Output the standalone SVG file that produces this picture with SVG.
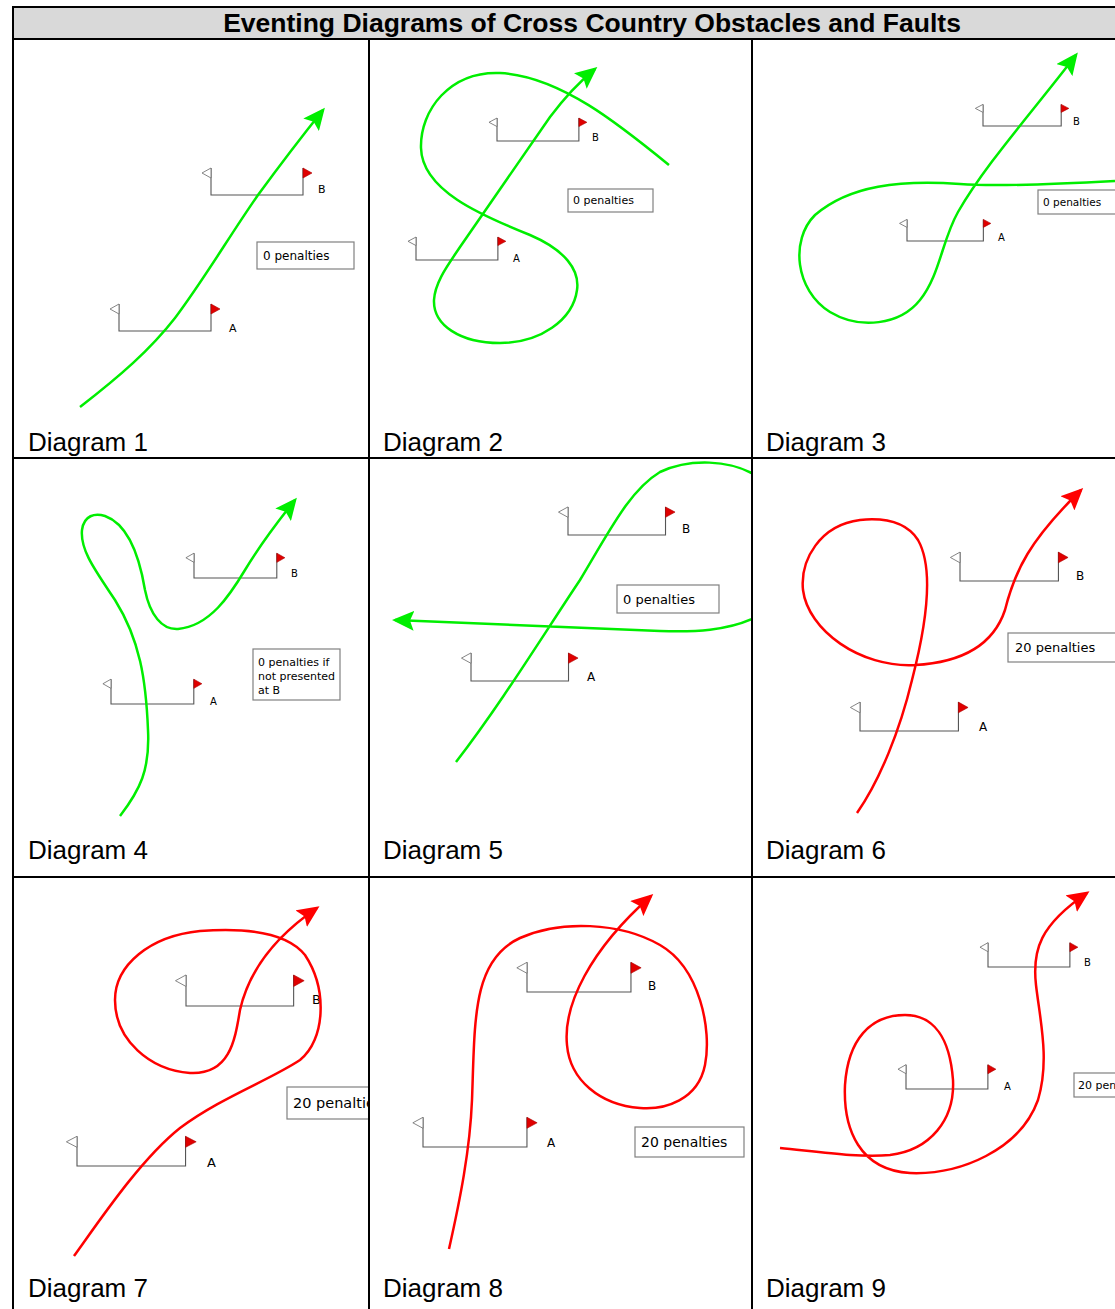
<svg xmlns="http://www.w3.org/2000/svg" xmlns:xlink="http://www.w3.org/1999/xlink" width="1115" height="1309" viewBox="0 0 1115 1309">
<style>
.grid{stroke:#000;stroke-width:2;fill:none}
.title{font-family:"Liberation Sans",Arial,sans-serif;font-weight:bold;font-size:26.5px;fill:#000}
.dlabel{font-family:"Liberation Sans",Arial,sans-serif;font-size:26px;fill:#000}
.gl{font-family:"DejaVu Sans",Verdana,sans-serif;fill:#000}
.box{fill:#fff;stroke:#808080;stroke-width:1.2}
.bt{font-family:"DejaVu Sans",Verdana,sans-serif;fill:#000}
.g{fill:none;stroke:#00ee00;stroke-width:2.5}
.r{fill:none;stroke:#ff0000;stroke-width:2.5}
</style>
<defs>
<g id="gate">
<polyline points="0,-27 0,0 92,0 92,-27" fill="none" stroke="#555" stroke-width="1.1" vector-effect="non-scaling-stroke"/>
<polygon points="0,-27 -9,-22 0,-17" fill="#fff" stroke="#777" stroke-width="0.9" vector-effect="non-scaling-stroke"/>
<polygon points="92,-27 101,-22 92,-17" fill="#e00000" stroke="#a00" stroke-width="0.6" vector-effect="non-scaling-stroke"/>
</g>
<marker id="ag" viewBox="0 0 22 20" refX="19" refY="10" markerWidth="22" markerHeight="20" markerUnits="userSpaceOnUse" orient="auto"><path d="M0,0 L22,10 L0,20 L4,10 z" fill="#00ee00"/></marker>
<marker id="ar" viewBox="0 0 22 20" refX="19" refY="10" markerWidth="22" markerHeight="20" markerUnits="userSpaceOnUse" orient="auto"><path d="M0,0 L22,10 L0,20 L4,10 z" fill="#ff0000"/></marker>
<clipPath id="c5"><rect x="370" y="459" width="381" height="417"/></clipPath>
<clipPath id="c7"><rect x="14" y="878" width="354" height="431"/></clipPath>
</defs>
<rect x="0" y="0" width="1115" height="1309" fill="#fff"/>

<g id="frame">
<rect x="13" y="7" width="1104" height="32" fill="#d9d9d9" stroke="#000" stroke-width="2"/>
<text class="title" x="592" y="32" text-anchor="middle">Eventing Diagrams of Cross Country Obstacles and Faults</text>
<line class="grid" x1="13" y1="39" x2="13" y2="1309"/>
<line class="grid" x1="369" y1="39" x2="369" y2="1309"/>
<line class="grid" x1="752" y1="39" x2="752" y2="1309"/>
<line class="grid" x1="13" y1="458" x2="1115" y2="458"/>
<line class="grid" x1="13" y1="877" x2="1115" y2="877"/>
</g>

<g id="diagram1">
<use xlink:href="#gate" transform="translate(211,195)"/>
<use xlink:href="#gate" transform="translate(119,331)"/>
<text class="gl" x="318" y="193" font-size="11">B</text>
<text class="gl" x="229" y="332" font-size="11">A</text>
<rect class="box" x="257" y="242" width="97" height="27"/>
<text class="bt" x="263" y="260" font-size="12">0 penalties</text>
<text class="dlabel" x="28" y="451">Diagram 1</text>
</g>

<g id="diagram2">
<use xlink:href="#gate" transform="translate(497,141) scale(0.89,0.85)"/>
<use xlink:href="#gate" transform="translate(416,260) scale(0.89,0.85)"/>
<text class="gl" x="592" y="141" font-size="10">B</text>
<text class="gl" x="513" y="262" font-size="10">A</text>
<rect class="box" x="568" y="189" width="85" height="23"/>
<text class="bt" x="573" y="204" font-size="11">0 penalties</text>
<text class="dlabel" x="383" y="451">Diagram 2</text>
</g>

<g id="diagram3">
<use xlink:href="#gate" transform="translate(983,126) scale(0.85,0.8)"/>
<use xlink:href="#gate" transform="translate(907,241) scale(0.83,0.8)"/>
<text class="gl" x="1073" y="125" font-size="10">B</text>
<text class="gl" x="998" y="241" font-size="10">A</text>
<rect class="box" x="1038" y="190" width="90" height="24"/>
<text class="bt" x="1043" y="206" font-size="10.5">0 penalties</text>
<text class="dlabel" x="766" y="451">Diagram 3</text>
</g>

<g id="diagram4">
<use xlink:href="#gate" transform="translate(194,578) scale(0.9,0.92)"/>
<use xlink:href="#gate" transform="translate(111,704) scale(0.9,0.92)"/>
<text class="gl" x="291" y="577" font-size="10">B</text>
<text class="gl" x="210" y="705" font-size="10">A</text>
<rect class="box" x="253" y="649" width="87" height="51"/>
<text class="bt" x="258" y="666" font-size="11">0 penalties if</text>
<text class="bt" x="258" y="680" font-size="11">not presented</text>
<text class="bt" x="258" y="694" font-size="11">at B</text>
<text class="dlabel" x="28" y="859">Diagram 4</text>
</g>

<g id="diagram5">
<use xlink:href="#gate" transform="translate(568,535) scale(1.06,1.04)"/>
<use xlink:href="#gate" transform="translate(471,681) scale(1.06,1.04)"/>
<text class="gl" x="682" y="533" font-size="12">B</text>
<text class="gl" x="587" y="681" font-size="12">A</text>
<rect class="box" x="617" y="585" width="102" height="28"/>
<text class="bt" x="623" y="604" font-size="13">0 penalties</text>
<text class="dlabel" x="383" y="859">Diagram 5</text>
</g>

<g id="diagram6">
<use xlink:href="#gate" transform="translate(960,581) scale(1.07,1.07)"/>
<use xlink:href="#gate" transform="translate(860,731) scale(1.07,1.07)"/>
<text class="gl" x="1076" y="580" font-size="12">B</text>
<text class="gl" x="979" y="731" font-size="12">A</text>
<rect class="box" x="1008" y="633" width="110" height="29"/>
<text class="bt" x="1015" y="652" font-size="13">20 penalties</text>
<text class="dlabel" x="766" y="859">Diagram 6</text>
</g>

<g id="diagram7">
<use xlink:href="#gate" transform="translate(186,1006) scale(1.17,1.15)"/>
<use xlink:href="#gate" transform="translate(77,1166) scale(1.18,1.1)"/>
<text class="gl" x="312" y="1004" font-size="13">B</text>
<text class="gl" x="207" y="1167" font-size="13">A</text>
<g clip-path="url(#c7)">
<rect class="box" x="287" y="1087" width="100" height="32"/>
<text class="bt" x="293" y="1108" font-size="14.5">20 penalties</text>
</g>
<text class="dlabel" x="28" y="1297">Diagram 7</text>
</g>

<g id="diagram8">
<use xlink:href="#gate" transform="translate(527,992) scale(1.13,1.1)"/>
<use xlink:href="#gate" transform="translate(423,1147) scale(1.13,1.1)"/>
<text class="gl" x="648" y="990" font-size="12">B</text>
<text class="gl" x="547" y="1147" font-size="12">A</text>
<rect class="box" x="635" y="1127" width="109" height="30"/>
<text class="bt" x="641" y="1147" font-size="14">20 penalties</text>
<text class="dlabel" x="383" y="1297">Diagram 8</text>
</g>

<g id="diagram9">
<use xlink:href="#gate" transform="translate(988,967) scale(0.89,0.9)"/>
<use xlink:href="#gate" transform="translate(906,1089) scale(0.89,0.9)"/>
<text class="gl" x="1084" y="966" font-size="10">B</text>
<text class="gl" x="1004" y="1090" font-size="10">A</text>
<rect class="box" x="1074" y="1073" width="60" height="24"/>
<text class="bt" x="1078" y="1089" font-size="11">20 penalties</text>
<text class="dlabel" x="766" y="1297">Diagram 9</text>
</g>

<g id="connectors">
<path class="g" marker-end="url(#ag)" d="M80,407 C120,376 150,350 175,318 C205,278 230,235 258,195 C280,165 295,145 323,110"/>
<path class="g" marker-end="url(#ag)" d="M669,165 C620,125 560,76 500,73 C450,71 420,110 421,148 C422,190 480,215 530,235 C565,250 580,270 577,290 C573,320 540,343 500,343 C460,343 433,325 434,300 C435,282 448,265 460,247 L550,117 C565,97 578,83 595,69"/>
<path class="g" marker-end="url(#ag)" d="M1115,181 C1060,184 1000,187 960,184 C900,180 850,185 815,215 C790,240 795,290 830,312 C860,330 900,325 920,300 C940,275 942,240 958,212 C985,165 1030,115 1076,55"/>
<path class="g" marker-end="url(#ag)" d="M120,816 C140,790 150,770 148,730 C146,680 140,640 115,600 C95,570 80,550 82,530 C84,515 95,513 105,516 C130,525 140,560 145,590 C150,615 162,630 178,629 C210,626 230,595 245,570 C260,545 275,525 295,500"/>
<g clip-path="url(#c5)">
<path class="g" marker-end="url(#ag)" d="M456,762 C500,705 540,640 580,580 C610,530 630,490 660,472 C690,458 730,460 755,475 C800,505 800,590 760,615 C730,632 690,632 660,631 L395,620"/>
</g>
<path class="r" marker-end="url(#ar)" d="M857,813 C880,780 900,730 912,680 C925,630 935,570 918,540 C905,520 880,518 860,520 C820,525 800,560 803,590 C808,630 860,668 915,665 C970,662 995,640 1005,610 C1015,570 1030,540 1081,490"/>
<path class="r" marker-end="url(#ar)" d="M74,1256 C100,1220 140,1160 180,1128 C220,1098 270,1080 300,1060 C325,1040 328,990 305,955 C285,930 240,928 200,931 C150,936 115,965 115,1000 C115,1040 150,1070 190,1073 C230,1075 235,1040 240,1010 C248,975 270,940 317,908"/>
<path class="r" marker-end="url(#ar)" d="M449,1249 C460,1200 470,1150 472,1100 C475,1020 472,960 520,938 C560,920 620,922 660,945 C700,968 712,1030 705,1065 C698,1100 665,1110 640,1108 C600,1105 570,1080 567,1045 C563,1005 590,950 651,896"/>
<path class="r" marker-end="url(#ar)" d="M780,1148 C820,1152 860,1158 890,1155 C930,1150 955,1120 953,1080 C950,1040 935,1015 905,1015 C870,1015 848,1040 845,1085 C843,1130 860,1170 910,1173 C960,1175 1020,1150 1038,1100 C1050,1060 1040,1020 1036,985 C1032,950 1040,925 1087,893"/>
</g>
</svg>
